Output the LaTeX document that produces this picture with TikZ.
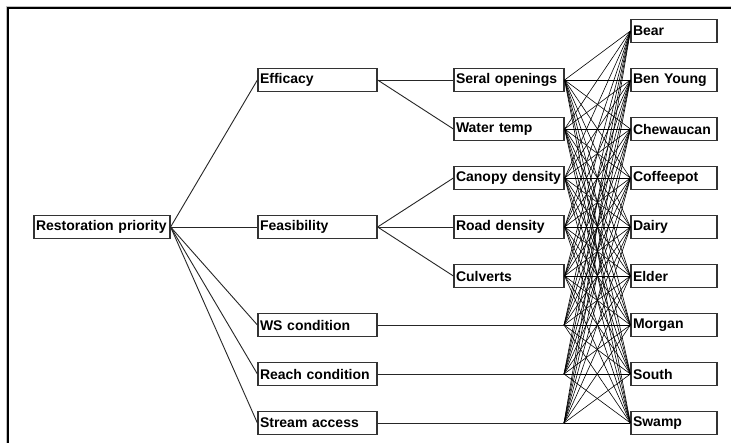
\documentclass[tikz,border=0pt]{standalone}
\usepackage{fontspec}
\setmainfont{Liberation Sans}
\begin{document}
\begin{tikzpicture}[x=1pt,y=-1pt,
  box/.style={draw=black!80,line width=1.2pt,fill=white,rectangle,inner xsep=2pt,inner ysep=0pt,
    minimum height=23pt,align=left,font=\fontsize{14}{14}\selectfont\bfseries},
  rootbox/.style={box,text width=132pt},
  lvtwo/.style={box,text width=115pt},
  lvthree/.style={box,text width=106pt},
  sitebox/.style={box,text width=82pt},
  link/.style={draw=black!85,line width=0.9pt},
  fan/.style={draw=black,line width=0.6pt}]
\useasboundingbox (0,0) rectangle (731,443);
\fill[white] (0,0) rectangle (731,443);
% window frame
\draw[gray!50,line width=1pt] (6.5,443) -- (6.5,6.5) -- (731,6.5);
\draw[black,line width=2pt] (8,443) -- (8,8) -- (731,8);
% nodes
\node[rootbox] (rp) at (102,227) {Restoration priority};
\node[lvtwo] (eff) at (317.5,80) {Efficacy};
\node[lvtwo] (fea) at (317.5,227) {Feasibility};
\node[lvtwo] (ws) at (317.5,325) {WS condition};
\node[lvtwo] (rc) at (317.5,374) {Reach condition};
\node[lvtwo] (sa) at (317.5,423) {Stream access};
\node[lvthree] (ser) at (509,80) {Seral openings};
\node[lvthree] (wat) at (509,129) {Water temp};
\node[lvthree] (can) at (509,178) {Canopy density};
\node[lvthree] (road) at (509,227) {Road density};
\node[lvthree] (culv) at (509,276) {Culverts};
\node[sitebox] (bear) at (674,31) {Bear};
\node[sitebox] (beny) at (674,80) {Ben Young};
\node[sitebox] (chew) at (674,129) {Chewaucan};
\node[sitebox] (coff) at (674,178) {Coffeepot};
\node[sitebox] (dairy) at (674,227) {Dairy};
\node[sitebox] (elder) at (674,276) {Elder};
\node[sitebox] (morg) at (674,325) {Morgan};
\node[sitebox] (south) at (674,374) {South};
\node[sitebox] (swamp) at (674,423) {Swamp};
\coordinate (wsend) at (564,325);
\coordinate (rcend) at (564,374);
\coordinate (saend) at (564,423);
% links
\foreach \t in {eff,fea,ws,rc,sa} \draw[link] (rp.east) -- (\t.west);
\foreach \t in {ser,wat} \draw[link] (eff.east) -- (\t.west);
\foreach \t in {can,road,culv} \draw[link] (fea.east) -- (\t.west);
\draw[link] (ws.east) -- (wsend);
\draw[link] (rc.east) -- (rcend);
\draw[link] (sa.east) -- (saend);
\foreach \s in {ser.east,wat.east,can.east,road.east,culv.east,wsend,rcend,saend}
  \foreach \t in {bear,beny,chew,coff,dairy,elder,morg,south,swamp}
    \draw[fan] (\s) -- (\t.west);
\end{tikzpicture}
\end{document}
